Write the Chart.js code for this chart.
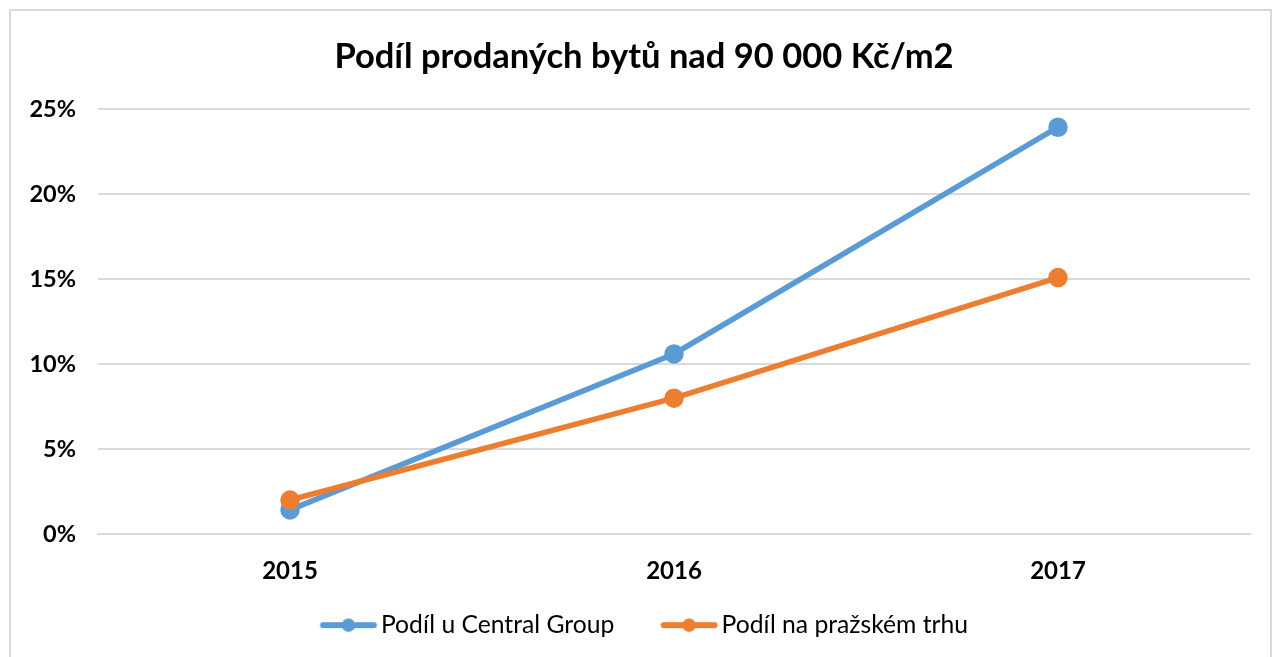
<!DOCTYPE html>
<html>
<head>
<meta charset="utf-8">
<script src="https://cdn.jsdelivr.net/npm/chart.js@4/dist/chart.umd.min.js"></script>
<style>
  body { margin: 0; background: #fff; overflow: hidden; }
  #box { position: absolute; left: 9px; top: 9px; width: 1259px; height: 660px; border: 2px solid #d9d9d9; }
</style>
</head>
<body>
<div id="box"><canvas id="graf"></canvas></div>
<script>
var roky = ['2015', '2016', '2017'];
var podilCentralGroup = [1.42, 10.6, 23.95];
var podilPrazskyTrh = [2.0, 8.0, 15.1];
var tickyY = [0, 5, 10, 15, 20, 25];

var modra = '#5b9bd5';
var oranzova = '#ed7d31';
var pismo = 'Lato';
var legendaPismo = 24.7;

// legend marker: line with a dot
function znacka(barva) {
    var c = document.createElement('canvas');
    c.width = 70; c.height = 16;
    var g = c.getContext('2d');
    g.strokeStyle = barva; g.lineWidth = 6; g.lineCap = 'round';
    g.beginPath(); g.moveTo(13.7, 8); g.lineTo(64.7, 8); g.stroke();
    g.fillStyle = barva;
    g.beginPath(); g.arc(39.2, 8, 6.7, 0, Math.PI * 2); g.fill();
    return c;
}

// wider gap after the first legend item
function sMezerou(text, px) {
    var g = document.createElement('canvas').getContext('2d');
    g.font = legendaPismo + 'px ' + pismo;
    var w = g.measureText(text).width;
    var t = text;
    while (g.measureText(t + ' ').width - w <= px) t += ' ';
    return t;
}

var ctx = document.getElementById('graf').getContext('2d');
var graf = new Chart(ctx, {
    type: 'line',
    data: {
        labels: roky,
        datasets: [{
            label: 'Podíl u Central Group',
            data: podilCentralGroup,
            borderColor: modra,
            backgroundColor: modra,
            borderWidth: 5.5,
            pointRadius: 7,
            pointHoverRadius: 7,
            order: 1
        }, {
            label: 'Podíl na pražském trhu',
            data: podilPrazskyTrh,
            borderColor: oranzova,
            backgroundColor: oranzova,
            borderWidth: 5.5,
            pointRadius: 7,
            pointHoverRadius: 7,
            order: 0
        }]
    },
    options: {
        responsive: true,
        maintainAspectRatio: false,
        animation: false,
        layout: { padding: { left: 16, right: 9, top: 0, bottom: 23.5 } },
        plugins: {
            title: {
                display: true,
                text: 'Podíl prodaných bytů nad 90 000 Kč/m2',
                color: '#000',
                font: { family: pismo, size: 34.5, weight: 'bold' },
                padding: { top: 25, bottom: 32 }
            },
            legend: {
                position: 'bottom',
                labels: {
                    color: '#000',
                    font: { family: pismo, size: legendaPismo },
                    usePointStyle: true,
                    pointStyleWidth: 48.6,
                    padding: 21,
                    generateLabels: function (chart) {
                        var n = chart.data.datasets.length;
                        return chart.data.datasets.map(function (ds, i) {
                            return {
                                text: i < n - 1 ? sMezerou(ds.label, 26) : ds.label,
                                pointStyle: znacka(ds.borderColor),
                                fillStyle: ds.borderColor,
                                strokeStyle: ds.borderColor,
                                lineWidth: 0,
                                hidden: false,
                                datasetIndex: i
                            };
                        });
                    }
                }
            },
            tooltip: { enabled: false }
        },
        scales: {
            x: {
                offset: true,
                afterFit: function (s) { s.height -= 17; },
                grid: { display: false, drawTicks: false },
                border: { color: '#d9d9d9', width: 2 },
                ticks: { color: '#000', padding: 23, font: { family: pismo, size: 24, weight: 'bold' } }
            },
            y: {
                min: 0,
                max: 25,
                afterFit: function (s) { s.width = 71; },
                afterBuildTicks: function (s) { s.ticks = tickyY.map(function (v) { return { value: v }; }); },
                grid: { color: '#d9d9d9', lineWidth: 2, drawTicks: false },
                border: { display: false },
                ticks: {
                    color: '#000',
                    padding: 22,
                    font: { family: pismo, size: 23.5, weight: 'bold' },
                    callback: function (v) { return v + '%'; }
                }
            },
            mezera: {
                position: 'right',
                afterFit: function (s) { s.width = 11; },
                grid: { display: false, drawTicks: false },
                border: { display: false },
                ticks: { display: false }
            }
        }
    }
});
</script>
</body>
</html>
